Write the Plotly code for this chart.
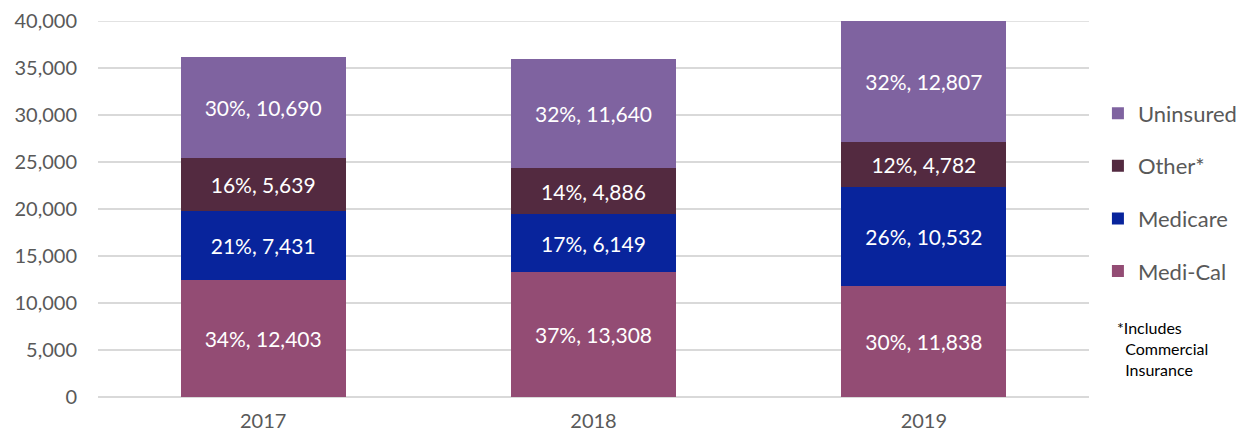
import plotly.graph_objects as go

years = ["2017", "2018", "2019"]
medi_cal = [12403, 13308, 11838]
medicare = [7431, 6149, 10532]
other = [5639, 4886, 4782]
uninsured = [10690, 11640, 12807]
medi_cal_pct = [34, 37, 30]
medicare_pct = [21, 17, 26]
other_pct = [16, 14, 12]
uninsured_pct = [30, 32, 32]
y_ticks = [0, 5000, 10000, 15000, 20000, 25000, 30000, 35000, 40000]

series = [
    ("Medi-Cal", medi_cal, medi_cal_pct, "#934C74", 4),
    ("Medicare", medicare, medicare_pct, "#08249C", 3),
    ("Other*", other, other_pct, "#532A40", 2),
    ("Uninsured", uninsured, uninsured_pct, "#7F63A0", 1),
]

FONT = "Lato, 'Open Sans', sans-serif"

fig = go.Figure()
for name, vals, pct, color, rank in series:
    fig.add_trace(go.Bar(
        x=years, y=vals, name=name, legendgroup=name, legendrank=rank,
        marker=dict(color=color, line=dict(width=0)),
        customdata=pct,
        texttemplate="%{customdata}%, %{y:,}",
        textposition="inside", insidetextanchor="middle",
        textfont=dict(color="white", size=21, family=FONT),
        constraintext="none",
    ))

fig.update_layout(
    barmode="stack",
    bargap=0.5,
    width=1246, height=440,
    margin=dict(l=90, r=160, t=13, b=51),
    plot_bgcolor="white", paper_bgcolor="white",
    font=dict(family=FONT, color="#595959", size=20),
    legend=dict(
        traceorder="grouped",
        tracegroupgap=21,
        x=1.009, xanchor="left", y=0.81, yanchor="top",
        font=dict(size=22, color="#595959", family=FONT),
        itemwidth=30,
    ),
    xaxis=dict(showline=False, ticks="", automargin=False,
               tickfont=dict(size=20, color="#595959"), ticklabelstandoff=10),
    yaxis=dict(range=[0, 40000], tickvals=y_ticks, tickformat=",", automargin=False,
               ticklabeloverflow="allow",
               showgrid=True, gridcolor="#D9D9D9", gridwidth=1.5,
               zeroline=True, zerolinecolor="#D9D9D9", zerolinewidth=1.5,
               tickfont=dict(size=20, color="#595959"), ticklabelstandoff=20),
)

# top gridline (plotly clips gridlines at the exact range end)
fig.add_shape(type="line", xref="paper", x0=0, x1=1, yref="y",
              y0=y_ticks[-1], y1=y_ticks[-1], layer="below",
              line=dict(color="#D9D9D9", width=1.5))

fig.add_annotation(
    text="*Includes<br>  Commercial<br>  Insurance",
    xref="paper", yref="paper", x=1.026, y=0.215, xanchor="left", yanchor="top",
    showarrow=False, align="left",
    font=dict(size=16, color="black", family=FONT),
)

fig.write_html("out.html")
